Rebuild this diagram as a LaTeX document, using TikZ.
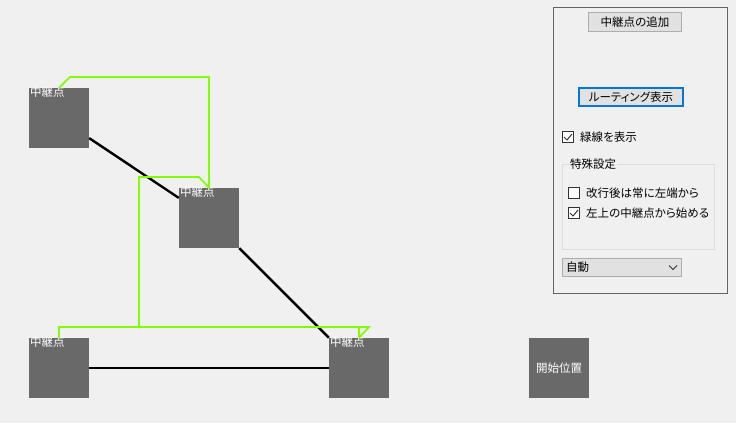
\documentclass[tikz,border=0pt]{standalone}
\usepackage{fontspec}
\setmainfont[RawFeature=+palt]{Noto Sans CJK JP}
\definecolor{bg}{HTML}{F0F0F0}
\definecolor{boxgray}{HTML}{696969}
\definecolor{lgreen}{HTML}{7FFF00}
\definecolor{panelborder}{HTML}{646464}
\definecolor{btnfill}{HTML}{E1E1E1}
\definecolor{btnborder}{HTML}{ADADAD}
\definecolor{focusblue}{HTML}{0078D7}
\definecolor{groupborder}{HTML}{DCDCDC}
\definecolor{chkborder}{HTML}{333333}
\begin{document}
\begin{tikzpicture}[x=1pt,y=-1pt,
  relay/.style={fill=boxgray, minimum size=60pt, inner sep=0pt, draw=none},
  rlabel/.style={text=white, font=\fontsize{11.5}{12}\selectfont, inner sep=0pt},
  wire/.style={line width=2.4pt, black},
  gline/.style={line width=1.7pt, lgreen, line join=miter},
  ui/.style={font=\fontsize{11.5}{12}\selectfont, text=black, inner sep=0pt},
  uibutton/.style={ui, fill=btnfill, draw=btnborder, line width=1pt},
  chk/.style={draw=chkborder, fill=white, line width=1pt, minimum size=11pt, inner sep=0pt},
  tick/.style={draw=chkborder, line width=1pt}
]
% background
\fill[bg] (0,0) rectangle (736,423);
\useasboundingbox (0,0) rectangle (736,423);

% relay boxes
\node[relay] (A) at (59,118) {};
\node[relay] (B) at (209,218) {};
\node[relay] (C) at (59,368) {};
\node[relay] (D) at (359,368) {};
\node[relay] (E) at (559,368) {};
\node[rlabel, anchor=north west] (Al) at ([shift={(1,-1)}]A.north west) {中継点};
\node[rlabel, anchor=north west] (Bl) at ([shift={(1,-1)}]B.north west) {中継点};
\node[rlabel, anchor=north west] (Cl) at ([shift={(1,-1)}]C.north west) {中継点};
\node[rlabel, anchor=north west] (Dl) at ([shift={(1,-1)}]D.north west) {中継点};
\node[rlabel] (El) at (E.center) {開始位置};

% black connections
\draw[wire] (A) -- (B);
\draw[wire] (B) -- (D);
\draw[wire] (C) -- (D);

% green routing lines
\coordinate (g1) at (70,77);
\coordinate (g2) at (209,77);
\coordinate (g3) at (199,177);
\coordinate (g4) at (139,177);
\coordinate (g5) at (139,327);
\coordinate (g6) at (59,327);
\coordinate (g7) at (369,327);
\coordinate (g8) at (359,327);
\draw[gline] (A.north) -- (g1) -- (g2) -- (B.north);
\draw[gline] (B.north) -- (g3) -- (g4) -- (g5) -- (g6) -- (C.north);
\draw[gline] (g5) -- (g7) -- (D.north);
\draw[gline] (D.north) -- (g8);

% right panel
\draw[panelborder, line width=1pt] (553,7.5) rectangle (727,293);
\node[uibutton, minimum width=93pt, minimum height=19pt] (add) at (635,22) {中継点の追加};
\node[uibutton, draw=focusblue, line width=2pt, minimum width=104pt, minimum height=18pt] (route) at (631,97) {ルーティング表示};

\node[chk] (cb1) at (568,137) {};
\draw[tick] ([shift={(-4,0)}]cb1.center) -- ([shift={(-1,3)}]cb1.center) -- ([shift={(4,-3)}]cb1.center);
\node[ui, anchor=west] (t1) at (580,137) {緑線を表示};

\draw[groupborder, line width=1pt] (562.5,164.5) rectangle (714.5,249.5);
\node[ui, anchor=west, fill=bg, inner xsep=1pt] (grp) at (569,164.5) {特殊設定};

\node[chk] (cb2) at (574,193) {};
\node[ui, anchor=west] (t2) at (586,193) {改行後は常に左端から};
\node[chk] (cb3) at (574,213) {};
\draw[tick] ([shift={(-4,0)}]cb3.center) -- ([shift={(-1,3)}]cb3.center) -- ([shift={(4,-3)}]cb3.center);
\node[ui, anchor=west] (t3) at (586,213) {左上の中継点から始める};

\node[uibutton, minimum width=119pt, minimum height=18pt] (combo) at (622,267.5) {};
\node[ui, anchor=west] (ct) at (566,267.5) {自動};
\draw[chkborder, line width=0.8pt] ([shift={(47,-2)}]combo.center) -- ([shift={(51,2)}]combo.center) -- ([shift={(55,-2)}]combo.center);
\end{tikzpicture}
\end{document}
